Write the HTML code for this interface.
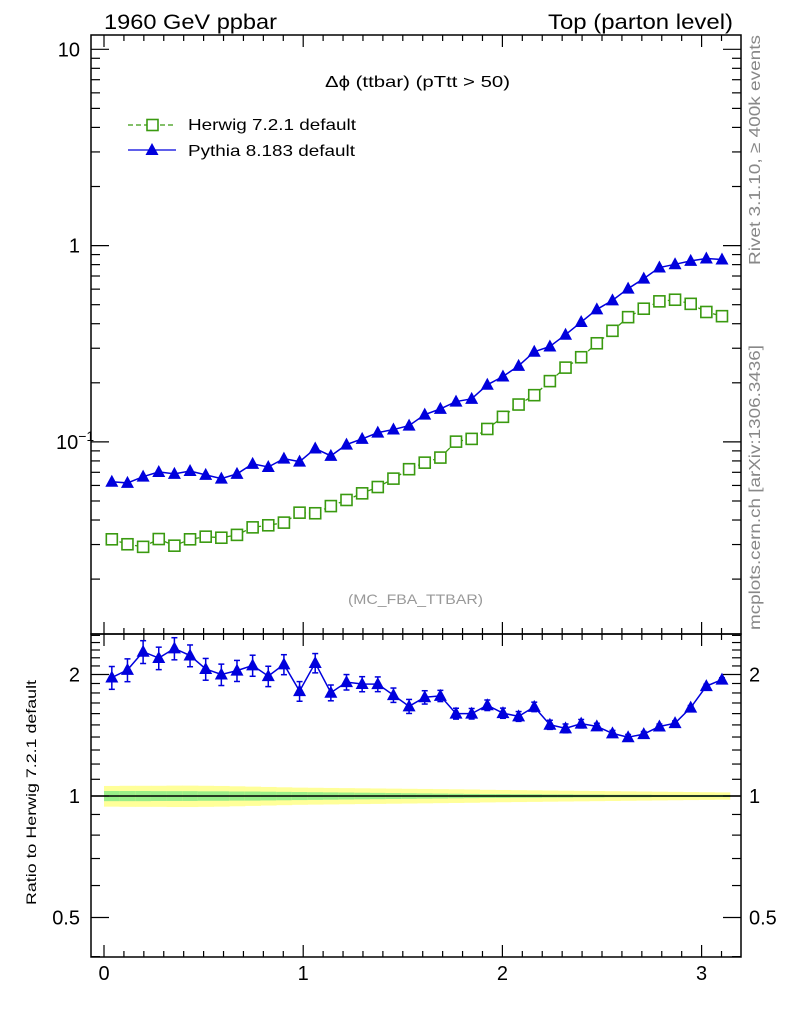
<!DOCTYPE html>
<html><head><meta charset="utf-8">
<style>
body{margin:0;background:#fff;}
svg{display:block;font-family:"Liberation Sans",sans-serif;}
</style></head>
<body>
<svg id="chart" width="786" height="1024" viewBox="0 0 786 1024" xmlns="http://www.w3.org/2000/svg">
<rect width="786" height="1024" fill="#fff"/>
<text x="104" y="29" font-size="21" textLength="173" lengthAdjust="spacingAndGlyphs">1960 GeV ppbar</text>
<text x="548" y="29" font-size="21" textLength="185" lengthAdjust="spacingAndGlyphs">Top (parton level)</text>
<text x="325" y="87" font-size="16" textLength="185" lengthAdjust="spacingAndGlyphs">Δϕ (ttbar) (pTtt &gt; 50)</text>
<text x="348" y="604" font-size="14" fill="#999" textLength="135" lengthAdjust="spacingAndGlyphs">(MC_FBA_TTBAR)</text>
<text transform="translate(760,265) rotate(-90)" font-size="16" fill="#888" textLength="230" lengthAdjust="spacingAndGlyphs">Rivet 3.1.10, ≥ 400k events</text>
<text transform="translate(760,630) rotate(-90)" font-size="16" fill="#888" textLength="285" lengthAdjust="spacingAndGlyphs">mcplots.cern.ch [arXiv:1306.3436]</text>
<text transform="translate(36,905) rotate(-90)" font-size="14" textLength="225" lengthAdjust="spacingAndGlyphs">Ratio to Herwig 7.2.1 default</text>
<g id="legend">
  <g>
    <line x1="128" y1="125" x2="176" y2="125" stroke="#3a9a10" stroke-width="1.3" stroke-dasharray="5,3"/>
    <rect x="147" y="119.5" width="11" height="11" fill="#fff" stroke="#3a9a10" stroke-width="1.6"/>
    <text x="188" y="130" font-size="16" textLength="168" lengthAdjust="spacingAndGlyphs">Herwig 7.2.1 default</text>
  </g>
  <g>
    <line x1="128" y1="150" x2="176" y2="150" stroke="#0000dd" stroke-width="1.3"/>
    <path d="M152,143 L158.5,155 L145.5,155 Z" fill="#0000dd"/>
    <text x="188" y="156" font-size="16" textLength="167" lengthAdjust="spacingAndGlyphs">Pythia 8.183 default</text>
  </g>
</g>
<g id="plots"></g>
</svg>
<script>
const herwig = [0.0319,0.0301,0.0292,0.0320,0.0296,0.0319,0.0329,0.0325,0.0336,0.0367,0.0376,0.0388,0.0436,0.0433,0.0471,0.0506,0.0547,0.0589,0.0650,0.0726,0.0784,0.0832,0.1003,0.1036,0.1164,0.1342,0.155,0.173,0.204,0.239,0.270,0.318,0.368,0.432,0.477,0.520,0.530,0.505,0.459,0.437];
const pythia = [0.0627,0.0618,0.0665,0.0703,0.0687,0.0711,0.0679,0.0650,0.0687,0.0773,0.0745,0.0822,0.0793,0.0925,0.0849,0.0969,0.1036,0.1115,0.1156,0.1211,0.1377,0.1473,0.1605,0.1657,0.1954,0.2153,0.2441,0.2877,0.3063,0.3516,0.408,0.473,0.526,0.604,0.679,0.773,0.803,0.836,0.859,0.849];
const pythiaRelErr = [0.065,0.065,0.065,0.064,0.063,0.062,0.062,0.061,0.060,0.060,0.058,0.057,0.056,0.055,0.045,0.044,0.043,0.042,0.041,0.040,0.038,0.032,0.031,0.030,0.030,0.029,0.028,0.027,0.026,0.025,0.024,0.018,0.017,0.016,0.015,0.014,0.013,0.012,0.011,0.010];
const herwigStatErr = [0.029,0.029,0.029,0.028,0.028,0.028,0.027,0.027,0.026,0.026,0.025,0.024,0.023,0.022,0.021,0.020,0.019,0.018,0.017,0.016,0.015,0.014,0.013,0.012,0.011,0.011,0.010,0.010,0.009,0.009,0.008,0.008,0.007,0.007,0.007,0.006,0.006,0.006,0.006,0.006];
const herwigTotErr = [0.059,0.060,0.060,0.060,0.061,0.061,0.060,0.059,0.057,0.055,0.053,0.051,0.049,0.048,0.047,0.046,0.045,0.044,0.043,0.042,0.041,0.040,0.039,0.038,0.036,0.035,0.034,0.033,0.032,0.031,0.030,0.029,0.028,0.027,0.026,0.025,0.024,0.023,0.022,0.021];
const xTickLabels = ["0","1","2","3"];
const ratioTickLabels = ["0.5","1","2"];
const mainTickLabels = ["10","1"];

const NS = "http://www.w3.org/2000/svg";
const X0 = 91, X1 = 741, MT = 35, MB = 634, RB = 957;
const xS = v => 104 + 199.2 * v;
const yM = v => 49.3 + 196.3 * (1 - Math.log10(v));
const yR = r => 796 - 121.5 * Math.log2(r);
const root = document.getElementById('plots');
function mk(tag, attrs, parent) {
  const e = document.createElementNS(NS, tag);
  for (const k in attrs) e.setAttribute(k, attrs[k]);
  (parent || root).appendChild(e);
  return e;
}
const nb = herwig.length, bw = Math.PI / nb;

const band = mk('g', {});


for (let i = 0; i < nb; i++) {
  const xa = xS(i * bw), xb = xS((i + 1) * bw);
  const y = mk('rect', {x: xa, y: yR(1 + herwigTotErr[i]), width: xb - xa + 0.5, height: yR(1 - herwigTotErr[i]) - yR(1 + herwigTotErr[i]), fill: '#ffff99'}, band);
  
  
  const g = mk('rect', {x: xa, y: yR(1 + herwigStatErr[i]), width: xb - xa + 0.5, height: yR(1 - herwigStatErr[i]) - yR(1 + herwigStatErr[i]), fill: '#99ee88'}, band);
  
  
}
const ref = mk('line', {x1: X0, x2: X1, y1: yR(1), y2: yR(1), stroke: '#000', 'stroke-width': 1.5});



const hg = mk('g', {});


mk('polyline', {points: herwig.map((v, i) => xS((i + 0.5) * bw) + ',' + yM(v)).join(' '), fill: 'none', stroke: '#3a9a10', 'stroke-width': 1.3, 'stroke-dasharray': '5,3'}, hg);
herwig.forEach((v, i) => {
  const r = mk('rect', {x: xS((i + 0.5) * bw) - 5.5, y: yM(v) - 5.5, width: 11, height: 11, fill: '#fff', stroke: '#3a9a10', 'stroke-width': 1.6}, hg);
  
  
});

const pg = mk('g', {});


mk('polyline', {points: pythia.map((v, i) => xS((i + 0.5) * bw) + ',' + yM(v)).join(' '), fill: 'none', stroke: '#0000dd', 'stroke-width': 1.5}, pg);
const rg = mk('g', {});


const ratio = pythia.map((v, i) => v / herwig[i]);
mk('polyline', {points: ratio.map((v, i) => xS((i + 0.5) * bw) + ',' + yR(v)).join(' '), fill: 'none', stroke: '#0000dd', 'stroke-width': 1.5}, rg);
function tri(x, y, parent, name) {
  const t = mk('path', {d: `M${x},${y - 7} L${x + 6.5},${y + 5} L${x - 6.5},${y + 5} Z`, fill: '#0000dd'}, parent);
  
  
}
pythia.forEach((v, i) => {
  const x = xS((i + 0.5) * bw);
  const ea = yM(v * (1 + pythiaRelErr[i] * 0.5)), eb = yM(v * (1 - pythiaRelErr[i] * 0.5));
  mk('line', {x1: x, x2: x, y1: ea, y2: eb, stroke: '#0000dd', 'stroke-width': 1.5}, pg);
  tri(x, yM(v), pg, 'pythia-point-' + i);
  const r = ratio[i];
  const ra = yR(r * (1 + pythiaRelErr[i])), rb = yR(r * (1 - pythiaRelErr[i]));
  mk('line', {x1: x, x2: x, y1: ra, y2: rb, stroke: '#0000dd', 'stroke-width': 1.5}, rg);
  mk('line', {x1: x - 3, x2: x + 3, y1: ra, y2: ra, stroke: '#0000dd', 'stroke-width': 1.5}, rg);
  mk('line', {x1: x - 3, x2: x + 3, y1: rb, y2: rb, stroke: '#0000dd', 'stroke-width': 1.5}, rg);
  tri(x, yR(r), rg, 'pythia-ratio-point-' + i);
});

const fr = mk('g', {fill: 'none', stroke: '#000', 'stroke-width': 1.5});


mk('rect', {x: X0, y: MT, width: X1 - X0, height: MB - MT}, fr);
mk('rect', {x: X0, y: MB, width: X1 - X0, height: RB - MB}, fr);

const ax = mk('g', {stroke: '#000', 'stroke-width': 1.2});


for (let k = 0; k <= 32; k++) {
  const v = k / 10, x = xS(v);
  if (x > X1) break;
  const L = k % 10 === 0 ? 12 : 6;
  [MT, MB].forEach(yb => mk('line', {x1: x, x2: x, y1: yb, y2: yb + L}, ax));
  [MB, RB].forEach(yb => mk('line', {x1: x, x2: x, y1: yb, y2: yb - L}, ax));
}
for (let d = -2; d <= 1; d++) {
  for (let m = 1; m <= 9; m++) {
    const v = m * Math.pow(10, d), y = yM(v);
    if (y < MT || y > MB) continue;
    const L = m === 1 ? 18 : 9;
    mk('line', {x1: X0, x2: X0 + L, y1: y, y2: y}, ax);
    mk('line', {x1: X1, x2: X1 - L, y1: y, y2: y}, ax);
  }
}
for (let k = 4; k <= 25; k++) {
  const v = k / 10, y = yR(v);
  if (y < MB || y > RB) continue;
  const major = (k === 5 || k === 10 || k === 20);
  const L = major ? 18 : 9;
  mk('line', {x1: X0, x2: X0 + L, y1: y, y2: y}, ax);
  mk('line', {x1: X1, x2: X1 - L, y1: y, y2: y}, ax);
}
const lab = mk('g', {'font-size': 20, fill: '#000'});


xTickLabels.forEach(s => {
  const t = mk('text', {x: xS(+s), y: 980, 'text-anchor': 'middle'}, lab);
  t.textContent = s;
  
  
});
mainTickLabels.forEach(s => {
  const t = mk('text', {x: 80, y: yM(+s) + 7, 'text-anchor': 'end'}, lab);
  t.textContent = s;
  
  
});
const tm = mk('text', {x: 56, y: yM(0.1) + 7}, lab);


tm.innerHTML = '10<tspan font-size="14" dy="-8">−1</tspan>';
ratioTickLabels.forEach(s => {
  const t = mk('text', {x: 80, y: yR(+s) + 7, 'text-anchor': 'end'}, lab);
  t.textContent = s;
  
  
  const t2 = mk('text', {x: 749, y: yR(+s) + 7}, lab);
  t2.textContent = s;
  
  
});
</script>
</body></html>
